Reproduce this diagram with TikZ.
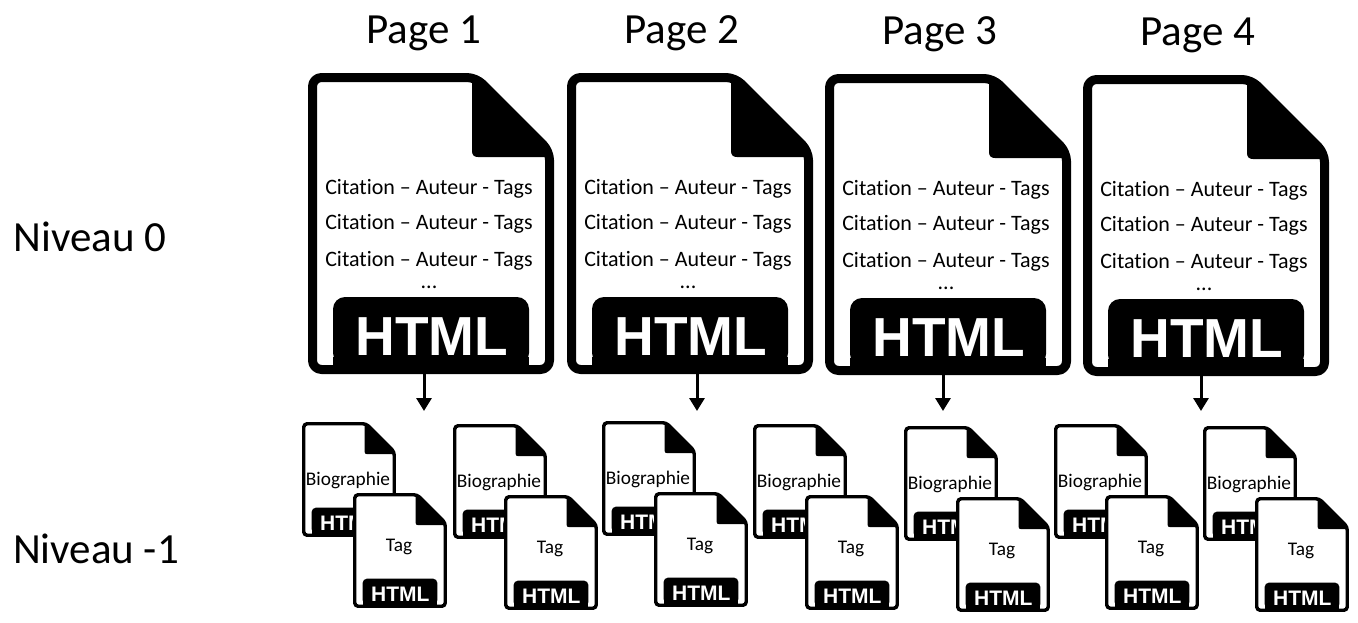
\documentclass[tikz,border=0pt]{standalone}
\usepackage{fontspec}
\setmainfont[Ligatures=NoCommon]{Carlito}
\newfontfamily\arialbold{Liberation Sans Bold}
\usetikzlibrary{arrows.meta,calc}
\tikzset{
  label text/.style={inner sep=0pt,font=\fontsize{43}{46}\selectfont},
  big line/.style={inner sep=0pt,font=\fontsize{22}{26}\selectfont},
  small line/.style={inner sep=0pt,font=\fontsize{19.3}{23}\selectfont},
  html text/.style={inner sep=0pt,text=white,transform shape,font=\fontsize{55}{58}\arialbold},
  link/.style={line width=3pt,-{Triangle[length=13pt,width=15pt]}},
  box anchor/.style={inner sep=0pt,minimum width=246pt,minimum height=301pt,transform shape}
}
% #1 name, #2 x, #3 y, #4 scale
\newcommand{\docfile}[4]{%
  \begin{scope}[shift={(#2,#3)},scale=#4]
    \draw[line width=#4*9pt,fill=white,line join=round,rounded corners=#4*9pt]
      (4.5,4.5) -- (168,4.5) -- (241.5,78) -- (241.5,296.5) -- (4.5,296.5) -- cycle;
    \fill[line join=round] (168,4.5) -- (241.5,78) -- (241.5,84) -- (170,84)
      .. controls (166,84) and (164,82) .. (164,78) -- (164,4.5) -- cycle;
    \fill[rounded corners=#4*12pt] (25,292) -- (25,224) -- (221,224) -- (221,292) -- cycle;
    \fill (25,284) rectangle (221,292);
    \node[html text] (#1-html) at (124,264) {HTML};
    \node[box anchor] (#1) at (123,150.5) {};
  \end{scope}}
\begin{document}
\begin{tikzpicture}[x=1pt,y=-1pt]
\useasboundingbox (0,0) rectangle (1358,622);
\fill[white] (0,0) rectangle (1358,622);

\node[label text] (niv0) at (90,237) {Niveau 0};
\node[label text] (niv1) at (96,549) {Niveau -1};
\node[label text] (lab1) at (424,33) {Page 1};
\node[label text] (lab2) at (682,33) {Page 2};
\node[label text] (lab3) at (940,34) {Page 3};
\node[label text] (lab4) at (1198,35) {Page 4};

\docfile{p1}{308}{73}{1}
\docfile{p2}{567}{73}{1}
\docfile{p3}{825}{74}{1}
\docfile{p4}{1083}{75}{1}

\foreach \n/\x/\ya/\yb/\yc/\yd in {a/429/189/224/261/287, b/688/189/224/261/287, c/946/190/225/262/288, d/1204/191/226/263/289}{
  \node[big line] (l\n1) at (\x,\ya) {Citation – Auteur - Tags};
  \node[big line] (l\n2) at (\x,\yb) {Citation – Auteur - Tags};
  \node[big line] (l\n3) at (\x,\yc) {Citation – Auteur - Tags};
  \node[big line] (l\n4) at (\x,\yd) {...};
}

\foreach \n/\bx/\by/\tx/\ty in {1/302/422/353/493, 2/453/424/504/495, 3/602/421/654/492, 4/753/424/805/495, 5/904/426/956/497, 6/1054/424/1105/495, 7/1203/426/1255/497}{
  \docfile{bio\n}{\bx}{\by}{0.382}
  \node[small line] (biot\n) at ($(\bx,\by)+(46,58)$) {Biographie};
  \docfile{tag\n}{\tx}{\ty}{0.382}
  \node[small line] (tagt\n) at ($(\tx,\ty)+(46,54)$) {Tag};
}

\coordinate (e1) at (424,411);
\coordinate (e2) at (697,411);
\coordinate (e3) at (943,411);
\coordinate (e4) at (1201,411);
\draw[link] (p1.south -| e1) -- (e1);
\draw[link] (p2.south -| e2) -- (e2);
\draw[link] (p3.south -| e3) -- (e3);
\draw[link] (p4.south -| e4) -- (e4);
\end{tikzpicture}
\end{document}
